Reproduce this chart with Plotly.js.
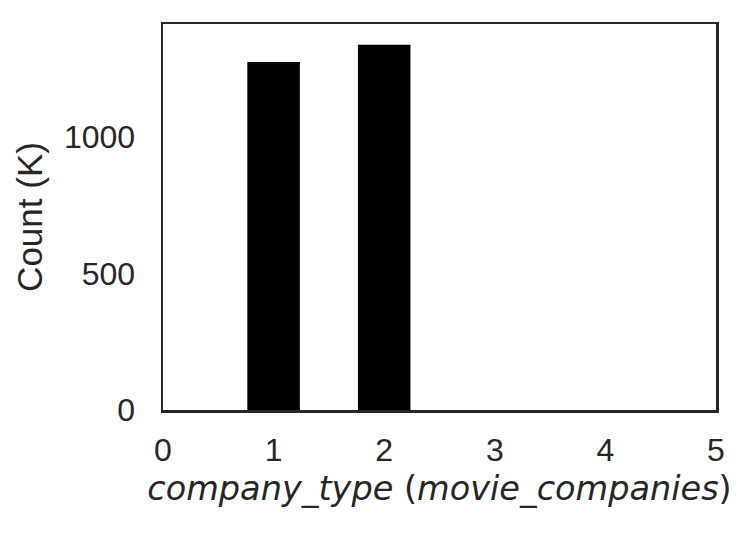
<!DOCTYPE html>
<html>
<head>
<meta charset="utf-8">
<script src="https://cdn.plot.ly/plotly-3.0.1.min.js"></script>
<style>html,body{margin:0;padding:0;background:#fff;}#chart{width:750px;height:536px;}</style>
</head>
<body>
<div id="chart"></div>
<script>
const categories = [1, 2];
const counts = [1273, 1336];
const xTicks = [0, 1, 2, 3, 4, 5];
const yTicks = [0, 500, 1000];

const trace = {
  type: 'bar',
  x: categories,
  y: counts,
  width: 0.475,
  marker: {color: '#000000', line: {width: 0}},
  hoverinfo: 'skip'
};

const layout = {
  width: 750, height: 536,
  margin: {l: 163, r: 34, t: 24, b: 126},
  paper_bgcolor: '#ffffff', plot_bgcolor: '#ffffff',
  showlegend: false,
  font: {family: 'Liberation Sans, Arial, sans-serif', color: '#262626'},
  xaxis: {
    range: [0, 5], tickvals: xTicks, ticktext: xTicks.map(String),
    showgrid: false, zeroline: false, ticks: '',
    showline: true, mirror: true, linecolor: '#262626', linewidth: 2.5,
    tickfont: {size: 32, family: 'Liberation Sans, Arial, sans-serif', color: '#262626'},
    ticklabelstandoff: 10,
    title: {text: '<i>company_type</i> (<i>movie_companies</i>)', standoff: 10,
      font: {size: 33.5, family: 'DejaVu Sans, sans-serif', color: '#262626'}}
  },
  yaxis: {
    range: [0, 1412], tickvals: yTicks, ticktext: yTicks.map(String),
    showgrid: false, zeroline: false, ticks: '',
    showline: true, mirror: true, linecolor: '#262626', linewidth: 2.5,
    tickfont: {size: 32, family: 'Liberation Sans, Arial, sans-serif', color: '#262626'},
    ticklabelstandoff: 19,
    title: {text: 'Count (K)', standoff: 11,
      font: {size: 35, family: 'Liberation Sans, Arial, sans-serif', color: '#262626'}}
  }
};

Plotly.newPlot('chart', [trace], layout, {staticPlot: true, displayModeBar: false});
</script>
</body>
</html>
